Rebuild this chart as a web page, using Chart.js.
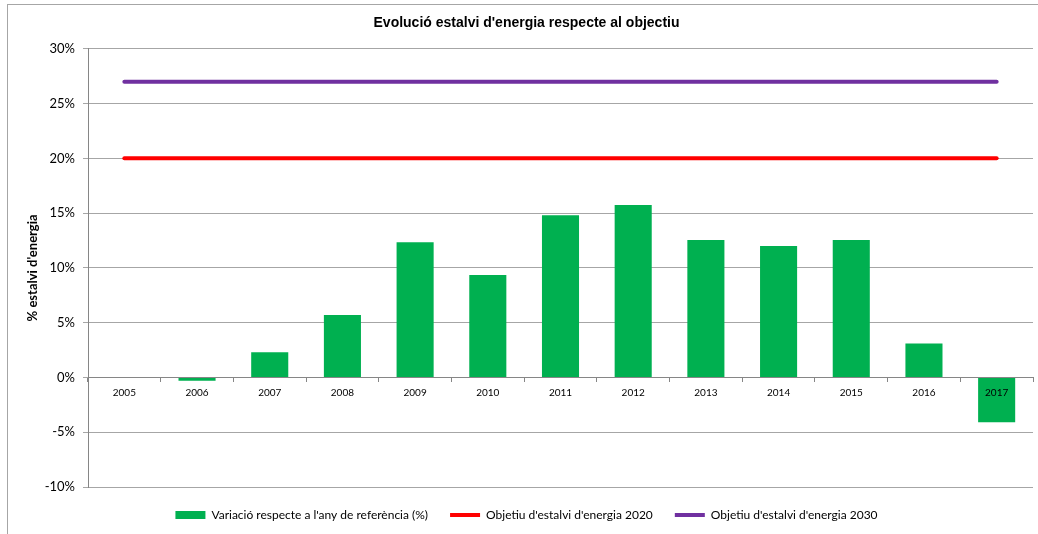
<!DOCTYPE html>
<html>
<head>
<meta charset="utf-8">
<style>
  html, body { margin: 0; padding: 0; background: #fff; overflow: hidden; }
  #frame { position: absolute; left: 7px; top: 4px; width: 1100px; height: 600px; border: 1px solid #a6a6a6; }
  #wrap { position: absolute; left: 0; top: 0; width: 1038px; height: 534px; }
</style>
<script src="https://cdn.jsdelivr.net/npm/chart.js@4"></script>
</head>
<body>
<div id="frame"></div>
<div id="wrap"><canvas id="chart"></canvas></div>
<script>
(function () {
    'use strict';

    var years = ['2005', '2006', '2007', '2008', '2009', '2010', '2011', '2012', '2013', '2014', '2015', '2016', '2017'];
    var variacio = [0, -0.3, 2.3, 5.7, 12.35, 9.35, 14.8, 15.75, 12.55, 12.0, 12.55, 3.1, -4.1];
    var objectiu2020 = [20, 20, 20, 20, 20, 20, 20, 20, 20, 20, 20, 20, 20];
    var objectiu2030 = [27, 27, 27, 27, 27, 27, 27, 27, 27, 27, 27, 27, 27];
    var yTicks = [-10, -5, 0, 5, 10, 15, 20, 25, 30];

    var green = '#00b050';
    var red = '#ff0000';
    var purple = '#7030a0';
    var grid = '#a6a6a6';
    var font = 'Lato, "Open Sans", sans-serif';

    new Chart(document.getElementById('chart').getContext('2d'), {
        type: 'bar',
        data: {
            labels: years,
            datasets: [
                {
                    label: 'Variació respecte a l\'any de referència (%)',
                    data: variacio,
                    backgroundColor: green,
                    borderWidth: 0,
                    barPercentage: 0.51,
                    categoryPercentage: 1,
                    pointStyle: 'rect'
                },
                {
                    type: 'line',
                    label: 'Objetiu d\'estalvi d\'energia 2020',
                    data: objectiu2020,
                    borderColor: red,
                    backgroundColor: red,
                    borderWidth: 4,
                    borderCapStyle: 'round',
                    pointRadius: 0,
                    pointStyle: 'line'
                },
                {
                    type: 'line',
                    label: 'Objetiu d\'estalvi d\'energia 2030',
                    data: objectiu2030,
                    borderColor: purple,
                    backgroundColor: purple,
                    borderWidth: 4,
                    borderCapStyle: 'round',
                    pointRadius: 0,
                    pointStyle: 'line'
                }
            ]
        },
        options: {
            responsive: true,
            maintainAspectRatio: false,
            animation: false,
            layout: { padding: { left: 20, right: 5, top: 0, bottom: 3 } },
            plugins: {
                title: {
                    display: true,
                    text: 'Evolució estalvi d\'energia respecte al objectiu',
                    color: '#000',
                    font: { family: '"Liberation Sans", Arial, sans-serif', size: 14, weight: 'bold' },
                    padding: { top: 15, bottom: 17 }
                },
                legend: {
                    position: 'bottom',
                    labels: {
                        usePointStyle: true,
                        pointStyleWidth: 30,
                        boxHeight: 8,
                        padding: 22,
                        color: '#000',
                        font: { family: font, size: 12 }
                    }
                },
                tooltip: { enabled: false }
            },
            scales: {
                x: {
                    position: { y: 0 },
                    grid: { display: true, drawOnChartArea: false, offset: true, tickLength: 4, color: '#868686' },
                    border: { color: '#868686' },
                    ticks: { z: 1, color: '#000', padding: 5, maxRotation: 0, font: { family: font, size: 10 } }
                },
                y: {
                    min: -10,
                    max: 30,
                    afterBuildTicks: function (s) { s.ticks = yTicks.map(function (v) { return { value: v }; }); },
                    afterFit: function (s) { s.width = 68; },
                    grid: { color: grid, tickLength: 5 },
                    border: { color: '#868686' },
                    ticks: {
                        color: '#000',
                        padding: 8,
                        font: { family: font, size: 13 },
                        callback: function (v) { return v + '%'; }
                    },
                    title: {
                        display: true,
                        text: '% estalvi d\'energia',
                        color: '#000',
                        padding: { top: 5, bottom: 0 },
                        font: { family: font, size: 13, weight: 'bold' }
                    }
                }
            }
        }
    });
})();
</script>
</body>
</html>
